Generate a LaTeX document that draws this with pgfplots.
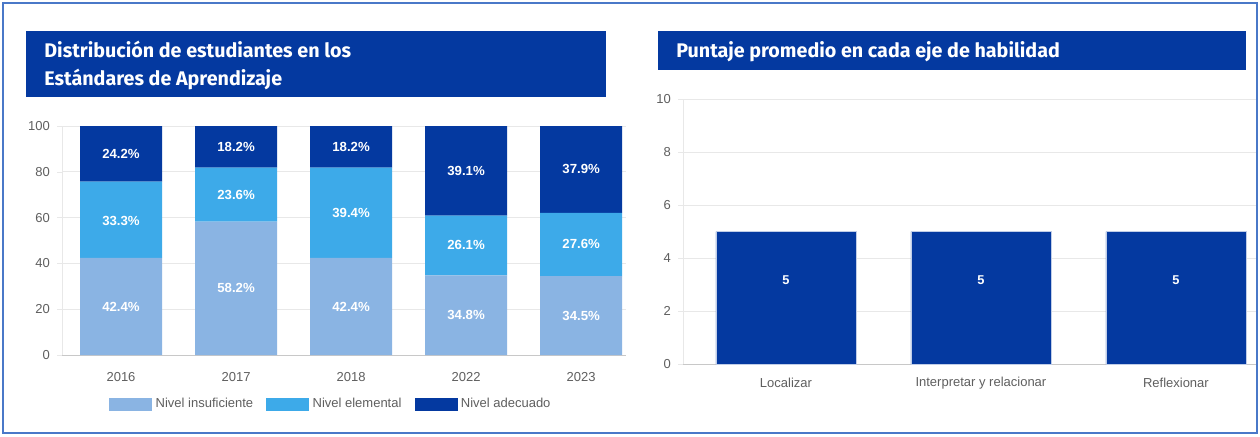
\documentclass[border=0pt]{standalone}
\usepackage{pgfplots}
\pgfplotsset{compat=1.18}
\usepackage{fontspec}
\setmainfont{Liberation Sans}
\newfontfamily\titlefont{Fira Sans}
\definecolor{cdark}{RGB}{4,57,160}
\definecolor{cmed}{RGB}{61,170,233}
\definecolor{clight}{RGB}{138,180,227}
\definecolor{cframe}{RGB}{74,120,200}
\definecolor{cgrid}{RGB}{232,232,232}
\definecolor{cbase}{RGB}{200,200,200}
\definecolor{ctick}{RGB}{95,95,95}
\pgfplotsset{
  common/.style={
    scale only axis, anchor=south west,
    axis lines=left, axis line style={-},
    x axis line style={draw=cbase},
    y axis line style={draw=cgrid},
    ymajorgrids, grid style={draw=cgrid, line width=0.5pt},
    tick label style={font=\fontsize{6.5}{7}\selectfont, text=ctick},
    xtick style={draw=none},
    ytick style={draw=cgrid},
    tick align=outside, major tick length=2.5pt,
    /pgf/number format/assume math mode=true,
    xtick=data,
    clip=true,
  },
  overlay/.style={
    scale only axis, anchor=south west, hide axis, clip=false,
  },
}
\begin{document}
\begin{tikzpicture}
\useasboundingbox (0,0) rectangle (630pt,218pt);
\fill[white] (0,0) rectangle (630pt,218pt);
% title boxes
\fill[cdark] (13pt,169.5pt) rectangle (303pt,202.5pt);
\node[anchor=west, align=left, text=white, font=\titlefont\bfseries\fontsize{9.85}{14}\selectfont, inner sep=0pt] at (22pt,185.2pt) {Distribución de estudiantes en los\\Estándares de Aprendizaje};
\fill[cdark] (329pt,183pt) rectangle (623pt,202.5pt);
\node[anchor=west, text=white, font=\titlefont\bfseries\fontsize{9.85}{14}\selectfont, inner sep=0pt] at (338pt,192.3pt) {Puntaje promedio en cada eje de habilidad};

% left stacked chart
\begin{axis}[common,
  at={(31pt,40.5pt)}, width=282pt, height=114.5pt,
  ybar stacked, bar width=41pt,
  xmin=-0.513, xmax=4.39, ymin=0, ymax=100,
  ytick={0,20,40,60,80,100},
  xticklabels={2016,2017,2018,2022,2023},
  xticklabel style={anchor=center, yshift=-8.5pt},
  legend columns=3,
  legend style={at={(axis description cs:0.478,-0.216)}, anchor=center, draw=none, fill=none,
    font=\fontsize{6.5}{7}\selectfont, text=ctick,
    /tikz/every even column/.append style={column sep=5pt},
    nodes={inner sep=1.6pt}},
  legend image code/.code={\path[#1, draw=none] (0pt,-3.2pt) rectangle (21.5pt,3.2pt);},
]
\addplot[fill=clight, draw=none] coordinates {(0,42.4) (1,58.2) (2,42.4) (3,34.8) (4,34.5)};
\addplot[fill=cmed, draw=none] coordinates {(0,33.3) (1,23.6) (2,39.4) (3,26.1) (4,27.6)};
\addplot[fill=cdark, draw=none] coordinates {(0,24.2) (1,18.2) (2,18.2) (3,39.1) (4,37.9)};
\legend{Nivel insuficiente, Nivel elemental, Nivel adecuado}
\end{axis}
\begin{axis}[overlay,
  at={(31pt,40.5pt)}, width=282pt, height=114.5pt,
  xmin=-0.513, xmax=4.39, ymin=0, ymax=100]
\addplot[draw=none, mark=none, nodes near coords, point meta=explicit symbolic,
  nodes near coords style={anchor=center, text=white, font=\bfseries\fontsize{6.6}{7}\selectfont}]
  table[meta=lab] {
x y lab
0 21.2 42.4\%
1 29.1 58.2\%
2 21.2 42.4\%
3 17.4 34.8\%
4 17.25 34.5\%
0 58.55 33.3\%
1 70.0 23.6\%
2 62.1 39.4\%
3 47.85 26.1\%
4 48.3 27.6\%
0 87.9 24.2\%
1 90.9 18.2\%
2 90.9 18.2\%
3 80.45 39.1\%
4 81.05 37.9\%
};
\end{axis}

% right chart
\begin{axis}[common,
  at={(341.5pt,36pt)}, width=287pt, height=132.5pt,
  ybar, bar width=70pt,
  xmin=-0.528, xmax=2.416, ymin=0, ymax=10,
  ytick={0,2,4,6,8,10},
  xticklabels={Localizar, Interpretar y relacionar, Reflexionar},
  xticklabel style={anchor=center, yshift=-7pt},
]
\addplot[fill=cdark, draw=white!75!cdark, line width=0.4pt] coordinates {(0,5) (1,5) (2,5)};
\end{axis}
\begin{axis}[overlay,
  at={(341.5pt,36pt)}, width=287pt, height=132.5pt,
  xmin=-0.528, xmax=2.416, ymin=0, ymax=10]
\addplot[draw=none, mark=none, nodes near coords, point meta=explicit symbolic,
  nodes near coords style={anchor=center, text=white, font=\bfseries\fontsize{6.4}{7}\selectfont}]
  table[meta=lab] {
x y lab
0 3.17 5
1 3.17 5
2 3.17 5
};
\end{axis}
% frame
\draw[cframe, line width=0.9pt] (1.5pt,1.5pt) rectangle (628.5pt,216.5pt);
\end{tikzpicture}
\end{document}
